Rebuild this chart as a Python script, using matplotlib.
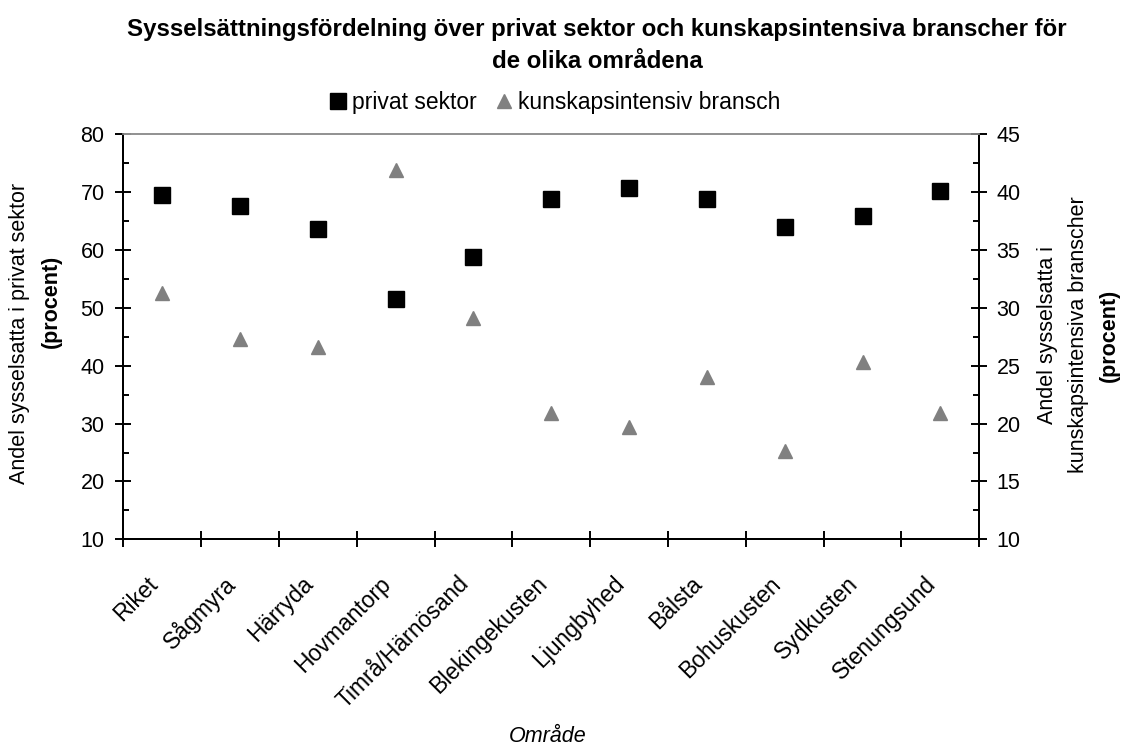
import numpy as np
import matplotlib.pyplot as plt
from matplotlib.ticker import MultipleLocator
import matplotlib.transforms as mtransforms

plt.rcParams['font.family'] = ['Liberation Sans', 'DejaVu Sans']

# Data
omraden = ['Riket', 'Sågmyra', 'Härryda', 'Hovmantorp', 'Timrå/Härnösand',
           'Blekingekusten', 'Ljungbyhed', 'Bålsta', 'Bohuskusten',
           'Sydkusten', 'Stenungsund']
privat_sektor = [69.5, 67.6, 63.6, 51.5, 58.8, 68.9, 70.8, 68.9, 64.0, 65.9, 70.2]
kunskap = [31.3, 27.3, 26.6, 41.9, 29.1, 20.9, 19.7, 24.0, 17.6, 25.3, 20.9]

x = np.arange(len(omraden)) + 0.5

fig = plt.figure(figsize=(11.22, 7.47), dpi=100)
fig.subplots_adjust(left=0.1099, right=0.8728, top=0.8202, bottom=0.278)
ax = fig.add_subplot(111)
ax2 = ax.twinx()

p1, = ax.plot(x, privat_sektor, 's', color='black', markersize=11.5,
              linestyle='none', label='privat sektor')
p2, = ax2.plot(x, kunskap, '^', color='#808080', markersize=9.5,
               linestyle='none', label='kunskapsintensiv bransch')

ax.set_xlim(0, len(omraden))
ax.set_ylim(10, 80)
ax2.set_ylim(10, 45)

ax.yaxis.set_major_locator(MultipleLocator(10))
ax.yaxis.set_minor_locator(MultipleLocator(5))
ax2.yaxis.set_major_locator(MultipleLocator(5))
ax2.yaxis.set_minor_locator(MultipleLocator(2.5))

# category boundaries as ticks, names drawn as rotated text under each category
ax.set_xticks(np.arange(len(omraden) + 1))
ax.set_xticklabels([])
trans = mtransforms.blended_transform_factory(ax.transData, ax.transAxes)
trans = mtransforms.offset_copy(trans, fig=fig, x=-8, y=-41, units='dots')
for xi, name in zip(x, omraden):
    ax.text(xi, 0, name, transform=trans, rotation=45, ha='right',
            va='center', rotation_mode='anchor', fontsize=16.5)

ax.tick_params(axis='x', which='major', direction='inout', length=11, width=1.4)
ax.tick_params(axis='y', which='major', direction='inout', length=11, width=1.4,
               labelsize=15.5, pad=8)
ax.tick_params(axis='y', which='minor', direction='in', length=4, width=1.4)
ax2.tick_params(axis='y', which='major', direction='inout', length=11, width=1.4,
                labelsize=15.5, pad=7)
ax2.tick_params(axis='y', which='minor', direction='in', length=4, width=1.4)

for a in (ax, ax2):
    a.spines['top'].set_color('#909090')
    a.spines['top'].set_linewidth(1.2)
    for s in ('left', 'right', 'bottom'):
        a.spines[s].set_linewidth(1.4)
        a.spines[s].set_color('black')

# Titles and axis labels
fig.text(0.532, 0.960, 'Sysselsättningsfördelning över privat sektor och kunskapsintensiva branscher för',
         ha='center', va='center', fontsize=17.3, fontweight='bold')
fig.text(0.532, 0.918, 'de olika områdena', ha='center', va='center',
         fontsize=17.3, fontweight='bold')

fig.text(0.0178, 0.554, 'Andel sysselsatta i privat sektor', rotation=90,
         ha='center', va='center', fontsize=15.5)
fig.text(0.0455, 0.596, '(procent)', rotation=90, ha='center', va='center',
         fontsize=15.5, fontweight='bold')

fig.text(0.934, 0.5515, 'Andel sysselsatta i', rotation=90,
         ha='center', va='center', fontsize=15.5)
fig.text(0.961, 0.5515, 'kunskapsintensiva branscher', rotation=90,
         ha='center', va='center', fontsize=15.5)
fig.text(0.989, 0.5515, '(procent)', rotation=90, ha='center', va='center',
         fontsize=15.5, fontweight='bold')

fig.text(0.488, 0.0134, 'Område', ha='center', va='center', fontsize=15.5,
         style='italic')

fig.legend(handles=[p1, p2], loc='center', bbox_to_anchor=(0.494, 0.863),
           ncol=2, frameon=False, fontsize=16.5, handlelength=0.8,
           handletextpad=0.2, columnspacing=0.8, markerscale=1.0)

fig.savefig('out.png', dpi=100)
